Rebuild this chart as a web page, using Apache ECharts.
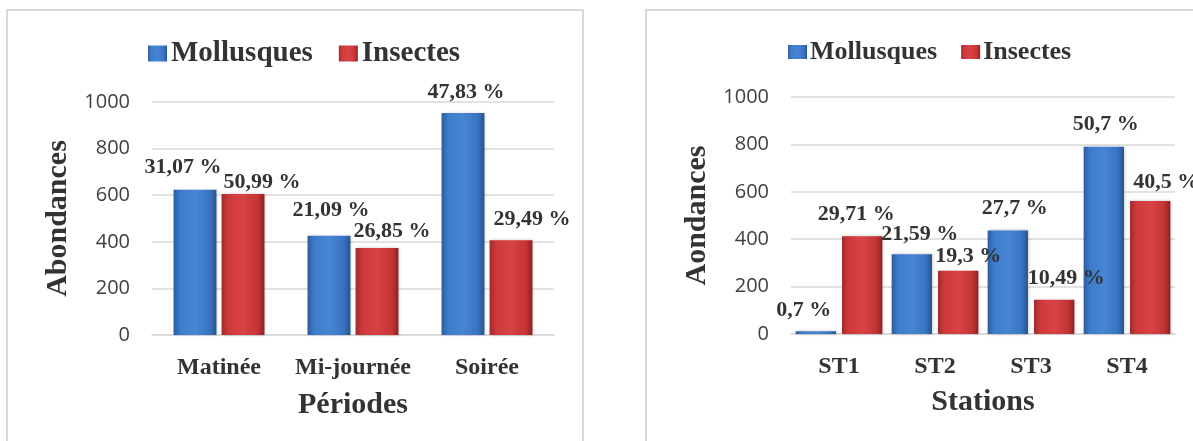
<!DOCTYPE html>
<html>
<head>
<meta charset="utf-8">
<script src="https://cdn.jsdelivr.net/npm/echarts@6/dist/echarts.min.js"></script>
<style>
  html, body { margin: 0; padding: 0; background: #ffffff; }
  #chart { width: 1193px; height: 441px; }
</style>
</head>
<body>
<div id="chart"></div>
<script>
// Abondances par période
const periodes = ['Matinée', 'Mi-journée', 'Soirée'];
const mollusquesPeriodes = [623, 426, 953];
const insectesPeriodes = [605, 373, 407];
const mollusquesPeriodesPct = ['31,07 %', '21,09 %', '47,83 %'];
const insectesPeriodesPct = ['50,99 %', '26,85 %', '29,49 %'];

// Abondances par station
const stations = ['ST1', 'ST2', 'ST3', 'ST4'];
const mollusquesStations = [12, 337, 437, 790];
const insectesStations = [412, 267, 145, 561];
const mollusquesStationsPct = ['0,7 %', '21,59 %', '27,7 %', '50,7 %'];
const insectesStationsPct = ['29,71 %', '19,3 %', '10,49 %', '40,5 %'];

const seriesNames = ['Mollusques', 'Insectes'];

// ---- styling ----
const SERIF = '"Liberation Serif", "Times New Roman", serif';
const SANS = '"Open Sans", "Liberation Sans", sans-serif';
const GRID_GRAY = '#d9d9d9';
const TEXT = '#333333';

const blueFill = new echarts.graphic.LinearGradient(0, 0, 1, 0, [
  { offset: 0, color: '#2b5c9c' },
  { offset: 0.15, color: '#3d7bcb' },
  { offset: 0.5, color: '#4786d4' },
  { offset: 0.85, color: '#3873c0' },
  { offset: 1, color: '#27538d' }
]);
const redFill = new echarts.graphic.LinearGradient(0, 0, 1, 0, [
  { offset: 0, color: '#a2292b' },
  { offset: 0.15, color: '#cd393b' },
  { offset: 0.5, color: '#d94345' },
  { offset: 0.85, color: '#c43335' },
  { offset: 1, color: '#8c2123' }
]);

// small nudges so the percentage labels sit where they are read best
const nudgeMollP = [[-12, -2], [2, -4], [3, 0]];
const nudgeInsP = [[19, 9], [15, 4], [21, 0]];
const nudgeMollS = [[-12, 0], [8, 1], [7, -1], [2, -1]];
const nudgeInsS = [[-6, -1], [10, 7], [12, 0], [16, 2]];

function withLabels(values, pcts, nudges) {
  return values.map((v, i) => ({
    value: v,
    label: { formatter: pcts[i], offset: nudges[i] }
  }));
}

function barSeries(name, fill, data, axisIndex, barWidth, barGap) {
  return {
    name: name,
    type: 'bar',
    xAxisIndex: axisIndex,
    yAxisIndex: axisIndex,
    data: data,
    barWidth: barWidth,
    barGap: barGap,
    itemStyle: {
      color: fill,
      shadowColor: 'rgba(0,0,0,0.25)',
      shadowBlur: 3,
      shadowOffsetX: 1,
      shadowOffsetY: 0
    },
    label: {
      show: true,
      position: 'top',
      distance: 10,
      fontFamily: SERIF,
      fontWeight: 'bold',
      fontSize: 22,
      color: TEXT
    },
    emphasis: { disabled: true }
  };
}

function valueAxis(gridIndex, name) {
  return {
    type: 'value',
    gridIndex: gridIndex,
    min: 0,
    max: 1000,
    interval: 200,
    name: name,
    nameLocation: 'middle',
    nameGap: 79,
    nameRotate: 90,
    nameTextStyle: {
      fontFamily: SERIF,
      fontWeight: 'bold',
      fontSize: 30,
      color: TEXT
    },
    axisLine: { show: false },
    axisTick: { show: false },
    axisLabel: {
      fontFamily: SANS,
      fontSize: 20,
      color: '#404040',
      margin: 22,
      formatter: (v) => String(v)
    },
    splitLine: { lineStyle: { color: GRID_GRAY, width: 1.5 } }
  };
}

function categoryAxis(gridIndex, cats, name, nameGap) {
  return {
    type: 'category',
    gridIndex: gridIndex,
    data: cats,
    name: name,
    nameLocation: 'middle',
    nameGap: nameGap,
    nameTextStyle: {
      fontFamily: SERIF,
      fontWeight: 'bold',
      fontSize: 30,
      color: TEXT
    },
    axisLine: { lineStyle: { color: GRID_GRAY, width: 1.5 } },
    axisTick: { show: false },
    axisLabel: {
      interval: 0,
      hideOverlap: false,
      fontFamily: SERIF,
      fontWeight: 'bold',
      fontSize: 24,
      color: TEXT,
      margin: 21
    }
  };
}

const chart = echarts.init(document.getElementById('chart'), null, { renderer: 'canvas' });

chart.setOption({
  animation: false,
  backgroundColor: '#ffffff',
  graphic: [
    {
      type: 'rect', silent: true, z: -10,
      shape: { x: 7, y: 10, width: 576, height: 460 },
      style: { fill: '#ffffff', stroke: GRID_GRAY, lineWidth: 2 }
    },
    {
      type: 'rect', silent: true, z: -10,
      shape: { x: 646, y: 10, width: 600, height: 460 },
      style: { fill: '#ffffff', stroke: GRID_GRAY, lineWidth: 2 }
    }
  ],
  legend: [
    {
      data: seriesNames,
      left: 143,
      top: 34,
      itemWidth: 19,
      itemHeight: 16,
      itemGap: 26,
      icon: 'rect',
      textStyle: {
        fontFamily: SERIF,
        fontWeight: 'bold',
        fontSize: 29,
        color: TEXT,
        padding: [0, 0, 0, -1]
      }
    },
    {
      data: seriesNames,
      left: 783,
      top: 34,
      itemWidth: 19,
      itemHeight: 14,
      itemGap: 24,
      icon: 'rect',
      textStyle: {
        fontFamily: SERIF,
        fontWeight: 'bold',
        fontSize: 26,
        color: TEXT,
        padding: [0, 0, 0, -2]
      }
    }
  ],
  grid: [
    { left: 152, right: 639, top: 102, bottom: 106 },
    { left: 791, right: 18, top: 97, bottom: 107 }
  ],
  xAxis: [
    categoryAxis(0, periodes, 'Périodes', 55),
    categoryAxis(1, stations, 'Stations', 53)
  ],
  yAxis: [
    valueAxis(0, 'Abondances'),
    valueAxis(1, 'Aondances')
  ],
  series: [
    barSeries('Mollusques', blueFill, withLabels(mollusquesPeriodes, mollusquesPeriodesPct, nudgeMollP), 0, '32%', '12%'),
    barSeries('Insectes', redFill, withLabels(insectesPeriodes, insectesPeriodesPct, nudgeInsP), 0, '32%', '12%'),
    barSeries('Mollusques', blueFill, withLabels(mollusquesStations, mollusquesStationsPct, nudgeMollS), 1, '42%', '15%'),
    barSeries('Insectes', redFill, withLabels(insectesStations, insectesStationsPct, nudgeInsS), 1, '42%', '15%')
  ]
});
</script>
</body>
</html>
